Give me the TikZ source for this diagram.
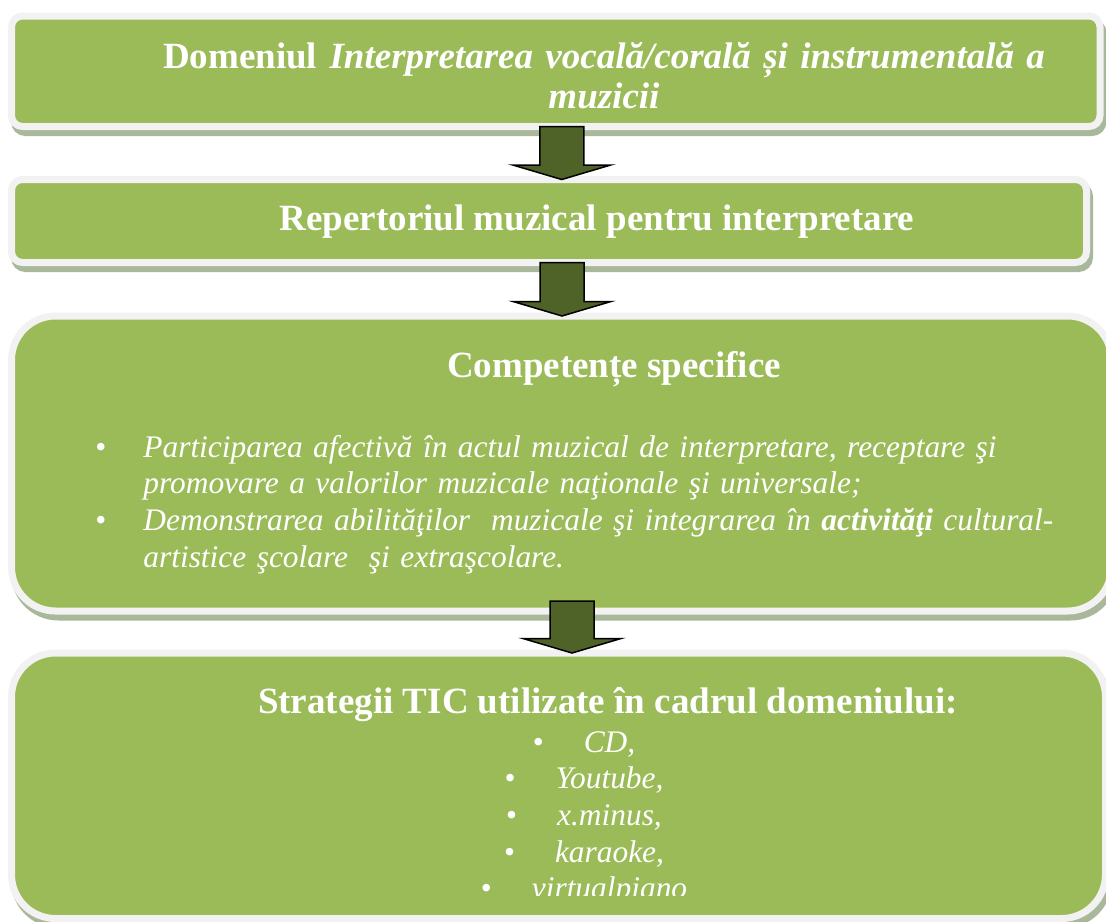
\documentclass[tikz,border=0pt]{standalone}
\usepackage{fontspec}
\setmainfont{Liberation Serif}
\usepackage{tikz}
\usetikzlibrary{positioning, calc, shadows}

\definecolor{boxgreen}{HTML}{9BBB59}
\definecolor{rimgray}{HTML}{F2F2F2}
\definecolor{shadowgreen}{HTML}{A9B79A}
\definecolor{arrowolive}{HTML}{4F6228}

\begin{document}
\begin{tikzpicture}[
    greenbox/.style={rectangle, draw=rimgray, line width=3.5pt, fill=boxgreen, outer sep=0pt, inner sep=0pt,
        drop shadow={shadow xshift=1.5pt, shadow yshift=-3pt, fill=shadowgreen, draw=shadowgreen, line width=3.5pt, opacity=1}},
    flat/.style={greenbox, rounded corners=5.5pt},
    round/.style={greenbox, rounded corners=22pt},
    title/.style={text=white, font=\fontsize{18.5}{20}\selectfont\bfseries, inner sep=0pt, align=center},
    item/.style={text=white, font=\fontsize{15.7}{18.35}\selectfont\itshape, inner sep=0pt},
    fatarrow/.style={draw=black, fill=arrowolive, line width=0.75pt, to path={
        let \p1=(\tikztostart), \p2=(\tikztotarget) in
        (\x1-11pt,\y1) -- (\x1+11pt,\y1) -- (\x1+11pt,\y2+7.25pt) -- (\x1+24.5pt,\y2+7.25pt)
        -- (\x1,\y2) -- (\x1-24.5pt,\y2+7.25pt) -- (\x1-11pt,\y2+7.25pt) -- cycle}}
]
\useasboundingbox (0,0) rectangle (553pt,-460.5pt);

% boxes
\node[flat, minimum width=544.25pt, minimum height=55.25pt, anchor=north west] (dom) at (5.75pt,-8pt) {};
\node[flat, minimum width=537.5pt, minimum height=41.5pt, below=26.5pt of dom.south west, anchor=north west] (rep) {};
\node[round, minimum width=550pt, minimum height=147.5pt, below=26.75pt of rep.south west, anchor=north west] (comp) {};
\node[round, minimum width=547pt, minimum height=132.75pt, below=21pt of comp.south west, anchor=north west] (strat) {};

% texts
\node[title, text width=460pt, anchor=base] (domt) at (302pt,-34pt)
    {Domeniul \textit{Interpretarea vocală/corală și instrumentală a}\\ \textit{muzicii}};
\node[title, anchor=base] (rept) at (298.5pt,-115pt) {Repertoriul muzical pentru interpretare};
\node[title, anchor=base] (compt) at (307pt,-188.5pt) {Competențe specifice};
\node[item, text width=490pt, align=left, anchor=base west] (compl) at (47.5pt,-228.5pt)
    {\makebox[24pt][l]{\upshape\textbullet}Participarea afectivă în actul muzical de interpretare, receptare şi\\
     \hspace*{24pt}promovare a valorilor muzicale naţionale şi universale;\\
     \makebox[24pt][l]{\upshape\textbullet}Demonstrarea abilităţilor\ \ muzicale şi integrarea în \textbf{activităţi} cultural-\\
     \hspace*{24pt}artistice şcolare\ \ şi extraşcolare.};
\node[title, anchor=base] (stratt) at (304pt,-356.5pt) {Strategii TIC utilizate în cadrul domeniului:};
\begin{scope}
\clip (0,0) rectangle (553pt,-447.5pt);
\node[item, text width=300pt, align=center, anchor=base] (stratl) at (292pt,-376pt)
    {{\upshape\textbullet}\hspace{20pt}CD,\\
     {\upshape\textbullet}\hspace{20pt}Youtube,\\
     {\upshape\textbullet}\hspace{20pt}x.minus,\\
     {\upshape\textbullet}\hspace{20pt}karaoke,\\
     {\upshape\textbullet}\hspace{20pt}virtualpiano};
\end{scope}

% arrows
\draw[fatarrow] ([xshift=3pt]dom.south) to ([xshift=3pt]rep.north);
\draw[fatarrow] ([xshift=6.5pt]rep.south) to ([xshift=6.5pt]comp.north);
\draw[fatarrow] ([xshift=5.25pt, yshift=5pt]comp.south) to ([xshift=5.25pt]strat.north);
\end{tikzpicture}
\end{document}
